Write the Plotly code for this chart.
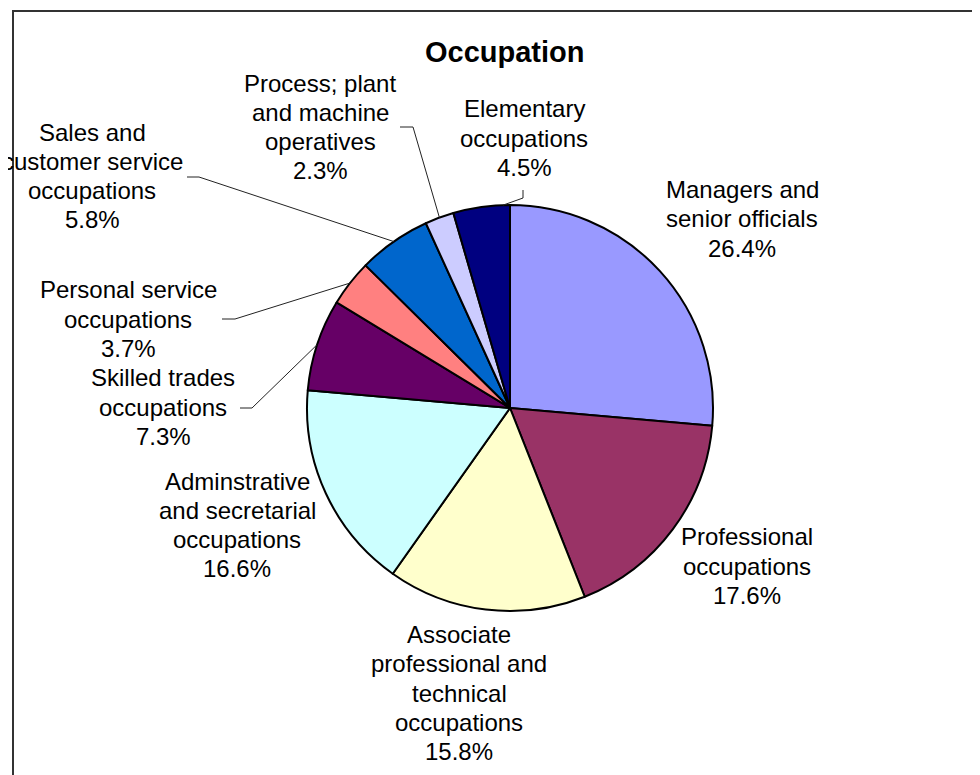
import math
import plotly.graph_objects as go

W, H = 980, 775
OFF = 8  # the page body adds an 8px margin around the plot div

# data
categories = [
    "Managers and<br>senior officials",
    "Professional<br>occupations",
    "Associate<br>professional and<br>technical<br>occupations",
    "Adminstrative<br>and secretarial<br>occupations",
    "Skilled trades<br>occupations",
    "Personal service<br>occupations",
    "Sales and<br>customer service<br>occupations",
    "Process; plant<br>and machine<br>operatives",
    "Elementary<br>occupations",
]
shares = [26.4, 17.6, 15.8, 16.6, 7.3, 3.7, 5.8, 2.3, 4.5]

colors = ["#9999FF", "#993366", "#FFFFCC", "#CCFFFF", "#660066",
          "#FF8080", "#0066CC", "#CCCCFF", "#000080"]

# layout (pixels in the window)
cx, cy, r = 510, 408, 203
line_h = 29.3
label_pos = [(742, 219), (747, 566), (459, 693), (237, 525), (163, 407),
             (128, 319), (92, 176), (320, 127), (524, 138)]
# leader lines: index -> (start, elbow, fraction of slice where it touches)
leaders = {
    4: ((240, 408), (252, 408), 0.5),
    5: ((222, 319), (235, 319), 0.5),
    6: ((187, 177), (199, 177), 0.5),
    7: ((400, 127), (413, 127), 0.5),
    8: ((523, 190), (523, 198), 0.88),
}
FONT = "Liberation Sans, Arial"


def px(x, y):
    return (x - OFF) / W, 1 - (y - OFF) / H


x0, y0 = px(cx - r, cy + r)
x1, y1 = px(cx + r, cy - r)
fig = go.Figure(go.Pie(
    labels=[c.replace("<br>", " ") for c in categories],
    values=shares,
    sort=False,
    direction="clockwise",
    rotation=0,
    textinfo="none",
    hoverinfo="label+percent",
    marker=dict(colors=colors, line=dict(color="black", width=2)),
    domain=dict(x=[x0, x1], y=[y0, y1]),
    showlegend=False,
))

annotations = []
for name, v, (lx, ly) in zip(categories, shares, label_pos):
    lines = name.split("<br>") + [f"{v:.1f}%"]
    n = len(lines)
    for k, t in enumerate(lines):
        x, y = px(lx, ly + (k - (n - 1) / 2) * line_h)
        annotations.append(dict(
            x=x, y=y, xref="paper", yref="paper", xanchor="center", yanchor="middle",
            text=t, showarrow=False,
            font=dict(family=FONT, size=24, color="black"),
        ))

# title
tx, ty = px(505, 52)
annotations.append(dict(
    x=tx, y=ty, xref="paper", yref="paper", xanchor="center", yanchor="middle",
    text="<b>Occupation</b>", showarrow=False,
    font=dict(family=FONT, size=29, color="black"),
))

shapes = []
total = sum(shares)
starts = []
acc = 0
for v in shares:
    starts.append(acc)
    acc += v
for i, (p0, p1, f) in leaders.items():
    ang = (starts[i] + f * shares[i]) / total * 2 * math.pi
    ax, ay = cx + r * math.sin(ang), cy - r * math.cos(ang)
    pts = [px(*p0), px(*p1), px(ax, ay)]
    path = "M " + " L ".join(f"{a},{b}" for a, b in pts)
    shapes.append(dict(type="path", path=path, xref="paper", yref="paper",
                       line=dict(color="#222222", width=1)))

# chart area border
bx, by = px(13, 11)
shapes.append(dict(type="rect", xref="paper", yref="paper",
                   x0=bx, x1=1.2, y0=-0.2, y1=by,
                   line=dict(color="#333333", width=2), fillcolor="rgba(0,0,0,0)"))

fig.update_layout(
    width=W,
    height=H,
    margin=dict(l=0, r=0, t=0, b=0),
    paper_bgcolor="white",
    plot_bgcolor="white",
    annotations=annotations,
    shapes=shapes,
)

fig.write_html("out.html")
